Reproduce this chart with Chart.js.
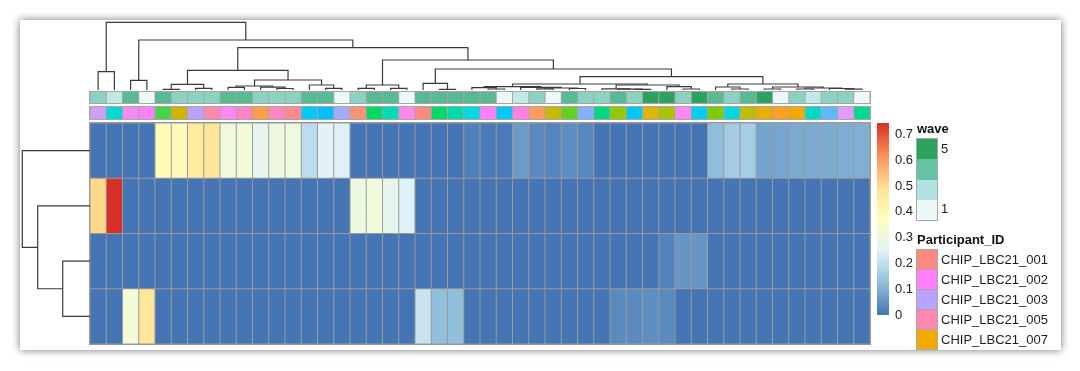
<!DOCTYPE html>
<html><head><meta charset="utf-8">
<script src="https://cdn.jsdelivr.net/npm/chart.js@4.4.1/dist/chart.umd.min.js"></script>
<style>
html,body{margin:0;padding:0;background:#fff;width:1080px;height:371px;overflow:hidden;font-family:"Liberation Sans",Arial,sans-serif;}
#card{position:absolute;left:20px;top:20px;width:1041px;height:330px;background:#fff;box-shadow:0 0 8px rgba(0,0,0,0.55);overflow:hidden;}
.abs{position:absolute;}
canvas{display:block;}
.lbl{position:absolute;font-size:13px;color:#1e1e1e;line-height:16px;white-space:nowrap;}
.ttl{position:absolute;font-size:13px;font-weight:bold;color:#111;line-height:16px;white-space:nowrap;}
</style></head><body>
<div id="card"></div>
<script>
// ---------------- DATA ----------------
const sampleIds = ['S01','S02','S03','S04','S05','S06','S07','S08','S09','S10','S11','S12','S13','S14','S15','S16','S17','S18','S19','S20','S21','S22','S23','S24','S25','S26','S27','S28','S29','S30','S31','S32','S33','S34','S35','S36','S37','S38','S39','S40','S41','S42','S43','S44','S45','S46','S47','S48'];

const heatRow1 = [0,0,0,0,0.39,0.39,0.45,0.475,0.31,0.32,0.27,0.30,0.31,0.195,0.25,0.243,0,0,0,0,0,0,0,0.02,0.008,0.008,0.064,0.035,0.026,0.04,0.03,0,0,0,0,0,0,0,0.12,0.152,0.157,0.077,0.08,0.088,0.091,0.092,0.096,0.097];
const heatRow2 = [0.506,0.744,0,0,0,0,0,0,0,0,0,0,0,0,0,0,0.30,0.31,0.27,0.245,0,0,0,0,0,0,0,0,0,0,0,0,0,0,0,0,0,0,0,0,0,0,0,0,0,0,0,0];
const heatRow3 = [0,0,0,0,0,0,0,0,0,0,0,0,0,0,0,0,0,0,0,0,0,0,0,0,0,0,0,0,0,0,0,0,0,0,0,0.025,0.055,0.055,0,0,0,0,0,0,0,0,0,0];
const heatRow4 = [0,0,0.32,0.47,0,0,0,0,0,0,0,0,0,0,0,0,0,0,0,0,0.21,0.125,0.125,0,0,0,0,0,0,0,0,0,0.036,0.035,0.04,0.035,0,0,0,0,0,0,0,0,0,0,0,0];

const waveValues = [3,2,4,1,4,3,3,3,4,4,3,3,3,4,4,1,3,4,4,1,4,4,4,4,4,1,2,3,1,4,3,3,4,3,5,5,3,5,4,3,4,5,1,3,2,3,3,1];

const sampleParticipant = ['id01','id02','id03','CHIP_LBC21_002','id04','id05','CHIP_LBC21_003','CHIP_LBC21_005','id06','id07','id08','id09','id10','id11','id12','id13','id14','id15','id16','id17','CHIP_LBC21_001','id18','id19','id20','CHIP_LBC21_002','id21','id22','id23','id24','id25','id26','id27','id28','id29','id30','id31','id06','id32','id33','id34','id35','id36','id37','CHIP_LBC21_007','id38','id39','id40','id41'];

const legendParticipants = ['CHIP_LBC21_001','CHIP_LBC21_002','CHIP_LBC21_003','CHIP_LBC21_005','CHIP_LBC21_007'];
const waveTicks = [5,1];
const colorbarTicks = [0,0.1,0.2,0.3,0.4,0.5,0.6,0.7];
const valueMax = 0.744;

// column dendrogram: [height, left, right], leaves = column index
const colTree =
 [67.7, [18.3,0,1],
  [50, [9.7,2,3],
   [42.3,
    [19.7, [5.7,[0.7,4,5],[1.7,6,7]],
           [10, [4,[2.6,8,9],[2.8,10,[1.5,11,12]]], [5,13,[1.7,14,15]]]],
    [30, [5,[1.7,16,17],[1.7,18,19]],
     [21, [6.7,20,[0.7,21,22]],
      [13.3,
       [6, [3.3,[2.3,23,[1.0,24,25]],[2.7,26,[2.0,[1.2,27,28],[1.5,29,30]]]],
           [5,[1.2,31,[0.9,32,[0.6,33,34]]],[3.3,35,[1.0,36,37]]]],
       [6, [3,38,[1.0,39,40]], [3,[1.0,41,42],[2,[1.0,43,44],[1.5,45,[0.8,46,47]]]]]]]]]]];

// row dendrogram
const rowTree = [67.7, 0, [52.3, 1, [27.3, 2, 3]]];

// ---------------- STYLES ----------------
const heatPalette = ['#4575B4','#91BFDB','#E0F3F8','#FFFFBF','#FEE090','#FC8D59','#D73027'];
const wavePalette = ['#EDF8FB','#B2E2E2','#66C2A4','#2CA25F'];
const participantColors = {
 'CHIP_LBC21_001':'#FD8A80','CHIP_LBC21_002':'#FF80FA','CHIP_LBC21_003':'#B9A3FF','CHIP_LBC21_005':'#FF88B0','CHIP_LBC21_007':'#F2A900',
 id01:'#CDA0F8',id02:'#00D8D0',id03:'#F38CF2',id04:'#48D448',id05:'#D2B400',id06:'#FF88F6',id07:'#FF84C8',id08:'#FFA045',
 id09:'#FF86BE',id10:'#FF8A8E',id11:'#00C8F8',id12:'#00BFFF',id13:'#A3ACFF',id14:'#FF9272',id15:'#00DA60',id16:'#00DCB8',
 id17:'#FF88EA',id18:'#00DA6A',id19:'#00DAA8',id20:'#00D8E8',id21:'#00C8FA',id22:'#FF82E2',id23:'#FF9A60',id24:'#C8B800',
 id25:'#64D020',id26:'#84B0FF',id27:'#00D880',id28:'#94C800',id29:'#00C8FF',id30:'#E0B400',id31:'#AAC400',id32:'#00D0F0',
 id33:'#80CC00',id34:'#00D8E0',id35:'#C0BC00',id36:'#E8B000',id37:'#FFA020',id38:'#00D8C8',id39:'#60B8FF',id40:'#E09CF8',id41:'#00DA90'};
const extraLegendSwatch = '#00C8C0';

// ---------------- LAYOUT (page px) ----------------
const L = {
  gridX: 90, gridW: 780,
  heatY: 123, heatH: 221,
  waveY: 92, waveH: 11,
  partY: 107, partH: 12,
  dendTopY: 20, dendTopH: 70,
  dendLeftX: 20, dendLeftW: 70,
  cbX: 877, cbW: 12, cbY: 123, cbH: 192
};

const card = document.getElementById('card');
function mkCanvas(x, y, w, h, bg){
  const c = document.createElement('canvas');
  c.width = w; c.height = h;
  c.style.position='absolute'; c.style.left=(x-20)+'px'; c.style.top=(y-20)+'px';
  c.style.width=w+'px'; c.style.height=h+'px';
  if (bg) c.style.background = bg;
  card.appendChild(c);
  return c;
}
function hex2rgb(h){return [parseInt(h.substr(1,2),16),parseInt(h.substr(3,2),16),parseInt(h.substr(5,2),16)];}
function ramp(pal, t){
  t = Math.max(0, Math.min(1, t));
  const n = pal.length-1, f = t*n, i = Math.min(Math.floor(f), n-1), u = f - i;
  const a = hex2rgb(pal[i]), b = hex2rgb(pal[i+1]);
  return 'rgb('+a.map((v,k)=>Math.round(v+(b[k]-v)*u)).join(',')+')';
}
const heatColor = v => ramp(heatPalette, v/valueMax);
const waveColor = v => ramp(wavePalette, (v-1)/4);

Chart.defaults.font.family = '"Liberation Sans", Arial, sans-serif';
const baseOpts = {responsive:false, animation:false, events:[], plugins:{legend:{display:false}, tooltip:{enabled:false}}};
const colPx = L.gridW / sampleIds.length;
const barPct = 1 - 1/colPx;

// ---------- heatmap ----------
const heatRows = [heatRow1, heatRow2, heatRow3, heatRow4];
const rowGap = 0.5 / (L.heatH / heatRows.length);
new Chart(mkCanvas(L.gridX-1, L.heatY-1, L.gridW+2, L.heatH+2, '#9a9a9a'), {
  type:'bar',
  data:{labels:sampleIds, datasets: heatRows.map((row, r) => ({
    data: row.map(() => [r + rowGap, r + 1 - rowGap]),
    backgroundColor: row.map(heatColor),
    borderWidth:0, barPercentage:barPct, categoryPercentage:1, grouped:false
  }))},
  options:{...baseOpts, layout:{padding:1},
    scales:{x:{display:false}, y:{display:false, min:0, max:heatRows.length, reverse:true}}}
});

// ---------- annotation rows ----------
function annot(y, h, colors){
  new Chart(mkCanvas(L.gridX-1, y-1, L.gridW+2, h+2, '#a6a6a6'), {
    type:'bar',
    data:{labels:sampleIds, datasets:[{data: sampleIds.map(()=>[0,1]), backgroundColor: colors,
      borderWidth:0, barPercentage:barPct, categoryPercentage:1}]},
    options:{...baseOpts, layout:{padding:1},
      scales:{x:{display:false}, y:{display:false, min:0, max:1}}}
  });
}
annot(L.waveY, L.waveH, waveValues.map(waveColor));
annot(L.partY, L.partH, sampleParticipant.map(p => participantColors[p]));

// ---------- dendrograms ----------
function treeSegs(node, segs){
  if (typeof node === 'number') return {p: node + 0.5, h: 0};
  const [h, l, r] = node;
  const a = treeSegs(l, segs), b = treeSegs(r, segs);
  segs.push([[a.p,a.h],[a.p,h],[b.p,h],[b.p,b.h]]);
  return {p:(a.p+b.p)/2, h};
}
const lineDs = pts => ({data: pts, showLine:true, pointRadius:0, borderColor:'#3a3a3a', borderWidth:1.2, clip:false, fill:false});

const colSegs = []; treeSegs(colTree, colSegs);
new Chart(mkCanvas(L.gridX, L.dendTopY, L.gridW, L.dendTopH), {
  type:'scatter',
  data:{datasets: colSegs.map(s => lineDs(s.map(([p,h]) => ({x:p, y:h}))))},
  options:{...baseOpts, layout:{padding:0},
    scales:{x:{display:false, type:'linear', min:0, max:sampleIds.length}, y:{display:false, min:0, max:70}}}
});

const rowSegs = []; treeSegs(rowTree, rowSegs);
new Chart(mkCanvas(L.dendLeftX, L.heatY, L.dendLeftW, L.heatH), {
  type:'scatter',
  data:{datasets: rowSegs.map(s => lineDs(s.map(([p,h]) => ({x:h, y:p}))))},
  options:{...baseOpts, layout:{padding:0},
    scales:{x:{display:false, type:'linear', min:0, max:70, reverse:true}, y:{display:false, min:0, max:heatRows.length, reverse:true}}}
});

// ---------- colour bar ----------
const cbAxisW = 36;
new Chart(mkCanvas(L.cbX, L.cbY-10, L.cbW + cbAxisW, L.cbH + 20), {
  type:'bar',
  data:{labels:[''], datasets:[{data:[[0, valueMax]], borderWidth:0, barPercentage:1, categoryPercentage:1,
    backgroundColor: ctx => {
      const ca = ctx.chart.chartArea; if (!ca) return heatPalette[0];
      const g = ctx.chart.ctx.createLinearGradient(0, ca.bottom, 0, ca.top);
      heatPalette.forEach((c,i) => g.addColorStop(i/(heatPalette.length-1), c));
      return g;
    }}]},
  options:{...baseOpts, layout:{padding:{top:10,bottom:10,left:0,right:0}},
    scales:{x:{display:false},
      y:{position:'right', min:0, max:valueMax,
         afterFit: s => { s.width = cbAxisW; s.paddingTop = 0; s.paddingBottom = 0; },
         grid:{display:false, drawTicks:false}, border:{display:false},
         afterBuildTicks: s => { s.ticks = colorbarTicks.map(v => ({value:v})); },
         ticks:{padding:6, color:'#222', font:{size:13}, callback: v => String(+v.toFixed(1))}}}}
});

// ---------- legends (HTML text) ----------
function addEl(cls, text, x, y){
  const d = document.createElement('div'); d.className = cls; d.textContent = text;
  d.style.left = (x-20)+'px'; d.style.top = (y-20-8)+'px'; card.appendChild(d); return d;
}
function addBox(x, y, w, h, color){
  const d = document.createElement('div');
  d.style.cssText = 'position:absolute;left:'+(x-20)+'px;top:'+(y-20)+'px;width:'+w+'px;height:'+h+'px;background:'+color+';';
  card.appendChild(d); return d;
}
addEl('ttl', 'wave', 917, 129);
const waveLegendColors = ['#2CA25F','#66C2A4','#B2E2E2','#EDF8FB'];
addBox(916, 138, 22, 83, '#a8a8a8');
waveLegendColors.forEach((c,i) => addBox(917, 139 + i*20.25, 20, 20.25, c));
addEl('lbl', String(waveTicks[0]), 941, 149);
addEl('lbl', String(waveTicks[1]), 941, 209);

addEl('ttl', 'Participant_ID', 917, 240);
addBox(916, 249, 22, 110, '#a8a8a8');
legendParticipants.forEach((p,i) => {
  addBox(917, 250 + i*20, 20, 19, participantColors[p]);
  addEl('lbl', p, 941, 260 + i*20);
});
addBox(917, 350, 20, 19, extraLegendSwatch);
</script>
</body></html>
